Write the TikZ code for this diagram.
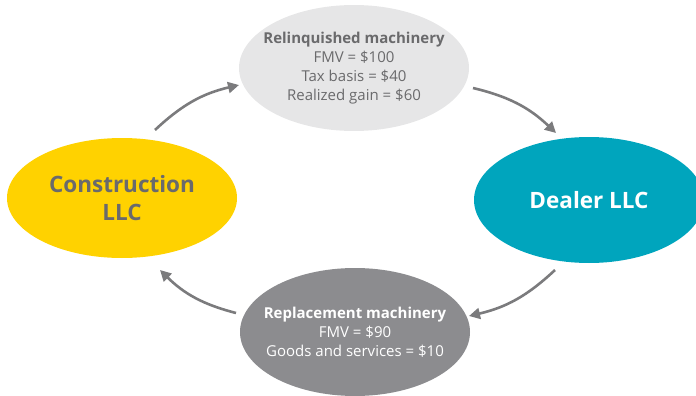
\documentclass[tikz,border=0pt]{standalone}
\usepackage{fontspec}
\setmainfont{Open Sans}
\usetikzlibrary{shapes.geometric,arrows.meta}
\definecolor{eyyellow}{HTML}{FFD200}
\definecolor{eyteal}{HTML}{00A5BD}
\definecolor{lgray}{HTML}{E6E6E7}
\definecolor{mgray}{HTML}{8C8C8F}
\definecolor{tgray}{HTML}{6A6A6C}
\definecolor{agray}{HTML}{7B7B7D}
\tikzset{
  blob/.style={ellipse, inner xsep=-35pt, inner ysep=-10pt, align=center},
  small/.style={font=\fontsize{15}{19}\selectfont},
  big/.style={font=\fontsize{22.5}{28}\selectfont\bfseries},
  arr/.style={draw=agray, line width=2.6pt, -{Triangle[length=11pt,width=11pt]}},
}
\begin{document}
\begin{tikzpicture}[x=1pt,y=-1pt]
\useasboundingbox (0,0) rectangle (696,396);
\node[blob, small, fill=lgray, minimum width=230pt, minimum height=126pt, text=tgray] (relinq) at (354,68)
  {\textbf{Relinquished machinery}\\FMV = \$100\\Tax basis = \$40\\Realized gain = \$60};
\node[blob, big, fill=eyteal, minimum width=230pt, minimum height=126pt, text=white] (dealer) at (589,200)
  {Dealer LLC};
\node[blob, small, fill=mgray, minimum width=230pt, minimum height=128pt, text=white] (repl) at (355,332)
  {\textbf{Replacement machinery}\\FMV = \$90\\Goods and services = \$10};
\node[blob, big, fill=eyyellow, minimum width=230pt, minimum height=120pt, text=tgray] (cons) at (122,198)
  {Construction\\LLC};
\coordinate (a1s) at (155,130); \coordinate (a1e) at (239,85);
\coordinate (a2s) at (473,88);  \coordinate (a2e) at (556,133);
\coordinate (a3s) at (555,270); \coordinate (a3e) at (469,316);
\coordinate (a4s) at (236,313); \coordinate (a4e) at (160,270);
\draw[arr] (a1s) to[bend left=15] (a1e);
\draw[arr] (a2s) to[bend left=15] (a2e);
\draw[arr] (a3s) to[bend left=15] (a3e);
\draw[arr] (a4s) to[bend left=15] (a4e);
\end{tikzpicture}
\end{document}
